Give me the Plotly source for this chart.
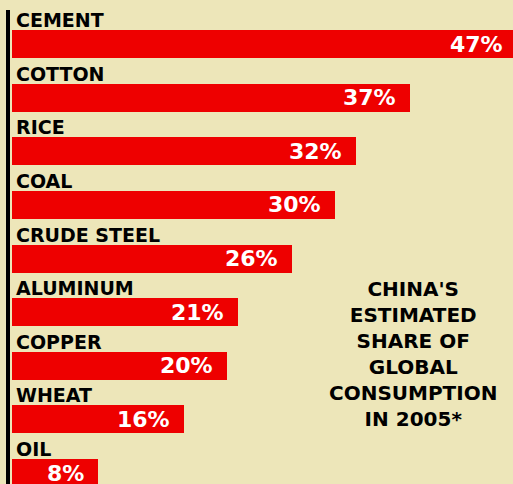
import plotly.graph_objects as go

categories = ["CEMENT", "COTTON", "RICE", "COAL", "CRUDE STEEL",
              "ALUMINUM", "COPPER", "WHEAT", "OIL"]
values = [47, 37, 32, 30, 26, 21, 20, 16, 8]
value_labels = ["47%", "37%", "32%", "30%", "26%", "21%", "20%", "16%", "8%"]
note_lines = ["CHINA'S", "ESTIMATED", "SHARE OF", "GLOBAL", "CONSUMPTION", "IN 2005*"]

BG = "#ede6b9"
RED = "#ee0000"
W, H = 513, 484
SCALE = 10.75          # px per percentage point
X0 = 12                # px where 0% sits
PITCH = 53.625         # px between bar centers
FIRST = 44             # px of first bar center

idx = list(range(len(categories)))
y_top = -FIRST / PITCH
y_bot = y_top + H / PITCH

fig = go.Figure()
fig.add_trace(go.Bar(
    x=values, y=idx, orientation="h",
    marker=dict(color=RED, line=dict(width=0)),
    width=28 / PITCH, hoverinfo="skip",
))

pad = 12 / SCALE
for i, (c, v, t) in enumerate(zip(categories, values, value_labels)):
    fig.add_annotation(x=0, y=i, xref="x", yref="y", text=c, showarrow=False,
                       xanchor="left", yanchor="middle", xshift=2, yshift=24,
                       font=dict(family="DejaVu Sans", size=19, color="black", weight="bold"))
    fig.add_annotation(x=v - pad, y=i, xref="x", yref="y", text=t, showarrow=False,
                       xanchor="right", yanchor="middle",
                       font=dict(family="DejaVu Sans", size=22, color="white", weight="bold"))

fig.add_annotation(x=413 / W, y=1 - 354 / H, xref="paper", yref="paper",
                   text="<br>".join(note_lines), showarrow=False,
                   xanchor="center", yanchor="middle", align="center",
                   font=dict(family="DejaVu Sans", size=20, color="black", weight="bold"))

fig.add_shape(type="line", xref="paper", yref="paper",
              x0=8 / W, x1=8 / W, y0=0, y1=1 - 10 / H,
              line=dict(color="black", width=4))

fig.update_layout(
    width=W, height=H, autosize=False,
    margin=dict(l=0, r=0, t=0, b=0),
    paper_bgcolor=BG, plot_bgcolor=BG,
    showlegend=False, bargap=0,
    xaxis=dict(range=[-X0 / SCALE, (W - X0) / SCALE], visible=False, fixedrange=True),
    yaxis=dict(range=[y_bot, y_top], visible=False, fixedrange=True),
)

fig.write_html("out.html", config={"displayModeBar": False},
               post_script="document.body.style.margin='0';document.body.style.overflow='hidden';")
